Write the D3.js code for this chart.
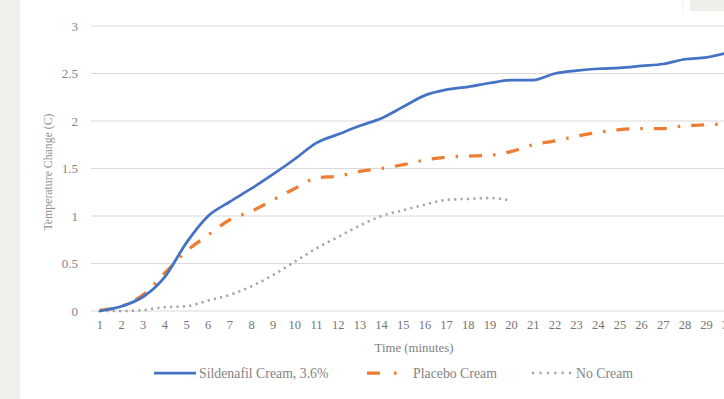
<!DOCTYPE html>
<html><head><meta charset="utf-8">
<script src="https://cdn.jsdelivr.net/npm/d3@7"></script>
<style>
html,body{margin:0;padding:0;background:#fff;overflow:hidden;}
svg{display:block;}
text{font-family:"Liberation Serif","Times New Roman",serif;}
</style></head>
<body>
<svg id="c" width="724" height="399"></svg>
<script>
const minutes = d3.range(1, 31);
const sildenafil = [0, 0.05, 0.15, 0.36, 0.72, 1.0, 1.15, 1.29, 1.44, 1.6, 1.77, 1.86, 1.95, 2.03, 2.15, 2.27, 2.33, 2.36, 2.4, 2.43, 2.43, 2.5, 2.53, 2.55, 2.56, 2.58, 2.6, 2.65, 2.67, 2.72];
const placebo = [0.01, 0.05, 0.17, 0.4, 0.63, 0.8, 0.96, 1.05, 1.17, 1.29, 1.4, 1.42, 1.47, 1.5, 1.54, 1.59, 1.62, 1.63, 1.64, 1.68, 1.75, 1.79, 1.84, 1.88, 1.91, 1.92, 1.92, 1.95, 1.96, 1.97];
const noCream = [0, 0, 0.01, 0.04, 0.05, 0.11, 0.17, 0.26, 0.38, 0.52, 0.66, 0.78, 0.9, 1.0, 1.06, 1.12, 1.17, 1.18, 1.19, 1.16];
const yTicks = [0, 0.5, 1, 1.5, 2, 2.5, 3];
const seriesNames = ["Sildenafil Cream, 3.6%", "Placebo Cream", "No Cream"];

const svg = d3.select("#c");
// background panels
svg.append("rect").attr("x",0).attr("y",0).attr("width",20).attr("height",399).attr("fill","#eef0eb");
svg.append("rect").attr("x",690).attr("y",0).attr("width",34).attr("height",11).attr("fill","#efefe9");
svg.append("line").attr("x1",682.5).attr("x2",682.5).attr("y1",0).attr("y2",14).attr("stroke","#f3f3f3");

const x = d3.scaleBand().domain(minutes).range([89, 89 + 30*21.67]).padding(0);
const y = d3.scaleLinear().domain([0, 3]).range([311, 26]);
const cx = d => x(d) + x.bandwidth()/2;

// gridlines
svg.append("g").selectAll("line").data(yTicks).join("line")
  .attr("x1", 91).attr("x2", 724)
  .attr("y1", d => y(d)).attr("y2", d => y(d))
  .attr("stroke", "#d9d9d9").attr("stroke-width", 1);

// y axis labels
const yAxis = d3.axisLeft(y).tickValues(yTicks).tickSize(0).tickPadding(0).tickFormat(d3.format("~g"));
const gy = svg.append("g").attr("transform", "translate(78,0)").call(yAxis);
gy.select(".domain").remove();
gy.selectAll("text").attr("font-size", 13).attr("fill", "#858585").attr("font-family", "Liberation Serif");

// x axis labels
const xAxis = d3.axisBottom(x).tickSize(0).tickPadding(0);
const gx = svg.append("g").attr("transform", "translate(0,320)").call(xAxis);
gx.select(".domain").remove();
gx.selectAll("text").attr("font-size", 12.5).attr("fill", "#747474").attr("font-family", "Liberation Serif");

// axis titles
svg.append("text").attr("x", 414).attr("y", 352).attr("text-anchor", "middle")
  .attr("font-size", 12.8).attr("fill", "#828282").text("Time (minutes)");
svg.append("text").attr("transform", "translate(52,172) rotate(-90)").attr("text-anchor", "middle")
  .attr("font-size", 11.8).attr("fill", "#929292").text("Temperature Change (C)");

const line = d3.line().x((d,i) => cx(minutes[i])).y(d => y(d)).curve(d3.curveMonotoneX);

const styles = [
  {data: sildenafil, color: "#4472c4", width: 2.75, dash: null, cap: "round"},
  {data: placebo, color: "#ed7d31", width: 3.25, dash: "13,11,2.5,11", cap: "butt"},
  {data: noCream, color: "#a5a5a5", width: 2.5, dash: "2.2,4.2", cap: "butt"}
];
// draw in order: no cream, placebo, sildenafil on top
[2,1,0].forEach(k => {
  const s = styles[k];
  svg.append("path").datum(s.data).attr("d", line)
    .attr("fill", "none").attr("stroke", s.color).attr("stroke-width", s.width)
    .attr("stroke-linecap", s.cap).attr("stroke-linejoin", "round")
    .attr("stroke-dasharray", s.dash);
});

// legend
const legY = 373;
const leg = [
  {x1: 154, x2: 196, tx: 199, dash: null},
  {x1: 367, x2: 397, tx: 413, dash: "13,14,2.5,20"},
  {x1: 532, x2: 572, tx: 576, dash: "2.2,5.2"}
];
leg.forEach((L, k) => {
  const s = styles[k];
  svg.append("line").attr("x1", L.x1).attr("x2", L.x2).attr("y1", legY).attr("y2", legY)
    .attr("stroke", s.color).attr("stroke-width", s.width)
    .attr("stroke-dasharray", L.dash);
  svg.append("text").attr("x", L.tx).attr("y", legY + 4.5).attr("font-size", 13.8)
    .attr("fill", "#838383").text(seriesNames[k]);
});
</script>
</body></html>
